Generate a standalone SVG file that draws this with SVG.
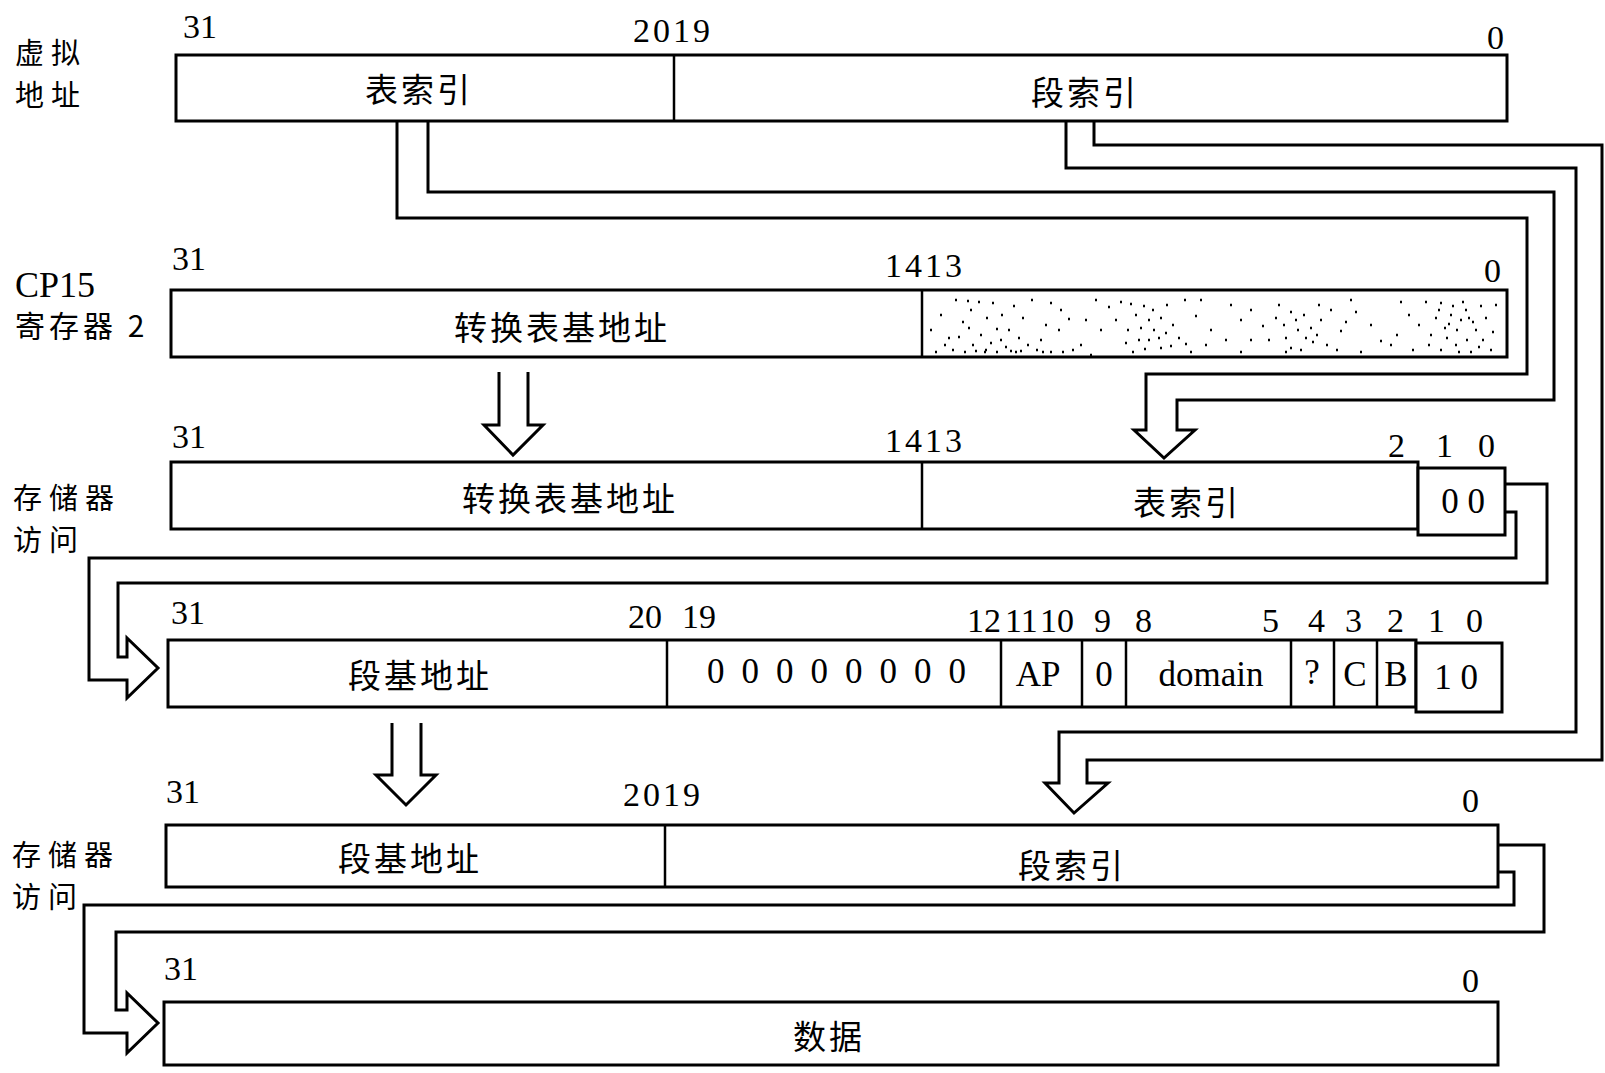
<svg xmlns="http://www.w3.org/2000/svg" width="1605" height="1073" viewBox="0 0 1605 1073">
<style>
.box{fill:#fff;stroke:#000;stroke-width:3}
.div{stroke:#000;stroke-width:2.5}
.num{font-family:"Liberation Serif",serif;font-size:34px;fill:#000}
.sp{letter-spacing:3px}
.cj{font-family:"Noto Sans CJK SC",sans-serif;font-size:33px;fill:#000;dominant-baseline:central;text-anchor:middle;letter-spacing:3px}
.lab{font-family:"Noto Sans CJK SC",sans-serif;font-size:29px;fill:#000;dominant-baseline:central;letter-spacing:7px}
.cell{font-family:"Liberation Serif",serif;font-size:35px;fill:#000;dominant-baseline:central;text-anchor:middle}
.conn{fill:none;stroke:#000;stroke-width:3;stroke-linejoin:miter}
.dots{fill:none;stroke:#000;stroke-width:2.4}
</style>
<rect width="1605" height="1073" fill="#fff"/>

<g id="row1-virtual-address">
<text class="lab" x="15" y="51">虚拟</text>
<text class="lab" x="15" y="93">地址</text>
<text class="num" x="183" y="38">31</text>
<text class="num sp" x="633" y="42">2019</text>
<text class="num" x="1487" y="49">0</text>
<rect class="box" x="176" y="55" width="1331" height="66"/>
<line class="div" x1="674" y1="55" x2="674" y2="121"/>
<text class="cj" x="419" y="88">表索引</text>
<text class="cj" x="1085" y="91">段索引</text>
</g>

<g id="row2-cp15-register2">
<text class="num" x="15" y="297" style="font-size:36px">CP15</text>
<text class="lab" x="15" y="324" style="font-size:30px;letter-spacing:4px">寄存器 2</text>
<text class="num" x="172" y="270">31</text>
<text class="num sp" x="885" y="277">1413</text>
<text class="num" x="1484" y="282">0</text>
<rect class="box" x="171" y="290" width="1336" height="67"/>
<line class="div" x1="922" y1="290" x2="922" y2="357"/>
<path class="dots" d="M967 301h2M978 302h2M992 303h2M1013 306h2M1031 300h2M962 322h2M986 318h2M996 329h2M1008 330h2M948 338h2M958 337h2M972 345h2M990 343h2M1005 347h2M1027 345h2M964 352h2M975 351h2M984 352h2M996 352h2M1010 351h2M1020 351h2M1036 350h2M1050 352h2M1062 352h2M1072 350h2M1058 330h2M1068 319h2M1120 302h2M1130 304h2M1143 306h2M1135 315h2M1148 320h2M1160 318h2M1140 328h2M1153 330h2M1165 333h2M1125 343h2M1148 340h2M1160 348h2M1170 346h2M1185 344h2M1195 316h2M1184 300h2M1275 318h2M1283 325h2M1290 312h2M1297 330h2M1305 338h2M1312 342h2M1320 320h2M1326 345h2M1290 348h2M1340 331h2M1355 312h2M1262 326h2M1318 305h2M1285 338h2M1425 302h2M1440 303h2M1452 306h2M1465 310h2M1435 318h2M1448 324h2M1460 320h2M1472 322h2M1430 335h2M1446 338h2M1456 330h2M1466 340h2M1478 347h2M1440 350h2M1458 352h2M1470 352h2M1485 318h2M1396 335h2M1408 315h2M1492 332h2M1060 310h2M1100 330h2M1210 330h2M1240 320h2M1380 341h2M1360 352h2M1240 352h2M1200 300h2M940 315h2M1090 355h2M930 330h2M944 345h2M952 350h2M980 335h2M1000 340h2M1018 338h2M1040 340h2M1045 325h2M970 310h2M955 300h2M1022 318h2M1050 303h2M1080 345h2M1001 315h2M985 350h2M1042 352h2M1015 352h2M968 328h2M1115 320h2M1127 330h2M1138 340h2M1152 310h2M1166 305h2M1172 325h2M1178 338h2M1158 338h2M1144 349h2M1132 352h2M1190 352h2M1108 307h2M1268 340h2M1278 305h2M1295 320h2M1303 315h2M1310 328h2M1316 335h2M1300 350h2M1330 310h2M1336 350h2M1285 352h2M1250 340h2M1345 322h2M1418 325h2M1428 345h2M1438 310h2M1450 315h2M1462 302h2M1475 330h2M1482 340h2M1490 350h2M1455 345h2M1444 328h2M1468 318h2M1495 305h2M1412 350h2M1400 302h2M1480 306h2M1230 305h2M1250 310h2M1370 325h2M1390 345h2M1095 300h2M1205 345h2M1225 340h2M935 352h2M1085 320h2M1350 300h2"/>
<text class="cj" x="562" y="326">转换表基地址</text>
</g>

<g id="row3-memory-access">
<text class="lab" x="13" y="496">存储器</text>
<text class="lab" x="13" y="538">访问</text>
<text class="num" x="172" y="448">31</text>
<text class="num sp" x="885" y="452">1413</text>
<text class="num" x="1388" y="457">2</text>
<text class="num" x="1436" y="457">1</text>
<text class="num" x="1478" y="457">0</text>
<rect class="box" x="171" y="462" width="1247" height="67"/>
<line class="div" x1="922" y1="462" x2="922" y2="529"/>
<rect class="box" x="1418" y="468" width="87" height="67"/>
<text class="cj" x="570" y="497">转换表基地址</text>
<text class="cj" x="1187" y="501">表索引</text>
<text class="cell" x="1463" y="501">0 0</text>
</g>

<g id="row4-section-descriptor">
<text class="num" x="171" y="624">31</text>
<text class="num" x="628" y="628">20</text>
<text class="num" x="682" y="628">19</text>
<text class="num" x="967" y="632">12</text>
<text class="num" x="1005" y="632">11</text>
<text class="num" x="1040" y="632">10</text>
<text class="num" x="1094" y="632">9</text>
<text class="num" x="1135" y="632">8</text>
<text class="num" x="1262" y="632">5</text>
<text class="num" x="1308" y="632">4</text>
<text class="num" x="1345" y="632">3</text>
<text class="num" x="1387" y="632">2</text>
<text class="num" x="1428" y="632">1</text>
<text class="num" x="1466" y="632">0</text>
<rect class="box" x="168" y="640" width="1248" height="67"/>
<line class="div" x1="667" y1="640" x2="667" y2="707"/>
<line class="div" x1="1001" y1="640" x2="1001" y2="707"/>
<line class="div" x1="1082" y1="640" x2="1082" y2="707"/>
<line class="div" x1="1126" y1="640" x2="1126" y2="707"/>
<line class="div" x1="1291" y1="640" x2="1291" y2="707"/>
<line class="div" x1="1334" y1="640" x2="1334" y2="707"/>
<line class="div" x1="1377" y1="640" x2="1377" y2="707"/>
<rect class="box" x="1416" y="643" width="86" height="69"/>
<text class="cj" x="420" y="674">段基地址</text>
<text class="cell" x="845" y="671" style="letter-spacing:17px">00000000</text>
<text class="cell" x="1038" y="674">AP</text>
<text class="cell" x="1104" y="674">0</text>
<text class="cell" x="1211" y="674">domain</text>
<text class="cell" x="1312" y="672">?</text>
<text class="cell" x="1355" y="674">C</text>
<text class="cell" x="1396" y="674">B</text>
<text class="cell" x="1456" y="677">1 0</text>
</g>

<g id="row5-memory-access">
<text class="lab" x="12" y="853">存储器</text>
<text class="lab" x="12" y="895">访问</text>
<text class="num" x="166" y="803">31</text>
<text class="num sp" x="623" y="806">2019</text>
<text class="num" x="1462" y="812">0</text>
<rect class="box" x="166" y="825" width="1332" height="62"/>
<line class="div" x1="665" y1="825" x2="665" y2="887"/>
<text class="cj" x="410" y="857">段基地址</text>
<text class="cj" x="1072" y="864">段索引</text>
</g>

<g id="row6-data">
<text class="num" x="164" y="980">31</text>
<text class="num" x="1462" y="992">0</text>
<rect class="box" x="164" y="1002" width="1334" height="63"/>
<text class="cj" x="829" y="1035">数据</text>
</g>

<g id="connectors">
<path class="conn" d="M397 121V218H1527V374H1146V430H1134L1164 458L1195 430H1177V400H1554V192H428V121"/>
<path class="conn" d="M1066 121V168H1576V732H1059V783H1045L1074 813L1108 783H1087V760H1602V145H1094V121"/>
<path class="conn" d="M499 372V425H484L513 455L543 425H528V372"/>
<path class="conn" d="M1505 484H1547V583H118V657H127V638L158 668L127 698V680H89V558H1516V512H1505"/>
<path class="conn" d="M392 723V775H376L406 805L436 775H421V723"/>
<path class="conn" d="M1498 845H1544V932H116V1010H127V993L158 1023L127 1053V1033H84V905H1514V872H1498"/>
</g>
</svg>
